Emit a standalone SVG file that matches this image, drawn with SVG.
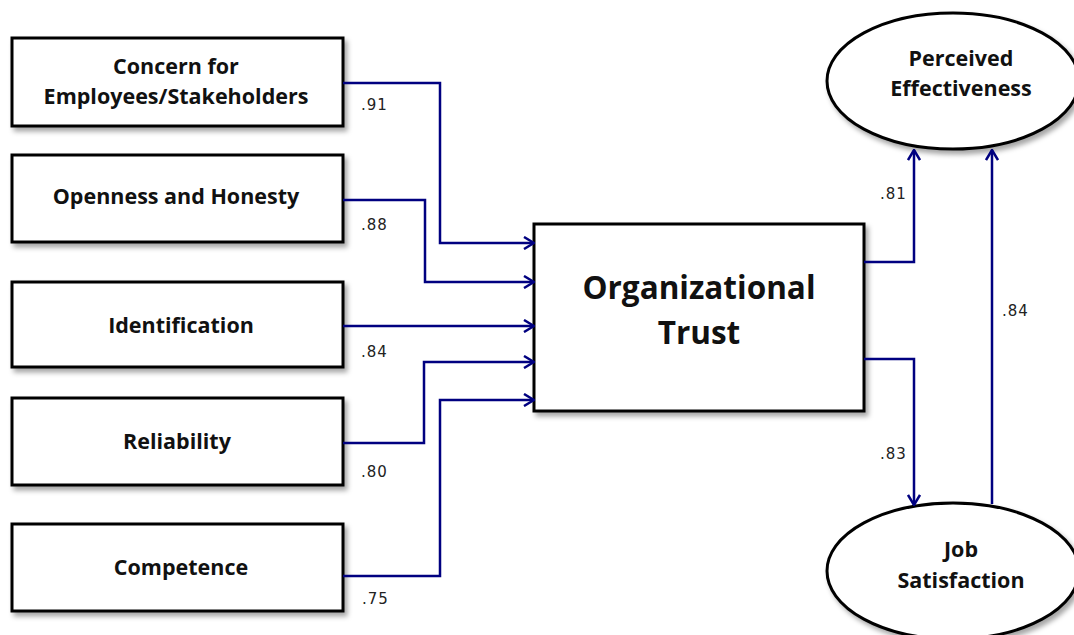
<svg xmlns="http://www.w3.org/2000/svg" width="1074" height="635" viewBox="0 0 1074 635">
  <style>
    .box { fill: #ffffff; stroke: #000000; stroke-width: 3; filter: url(#shadow); }
    .lbl { font-family: "Open Sans", Lato, "Liberation Sans", sans-serif; font-weight: bold; font-size: 21.5px; fill: #111111; text-anchor: middle; }
    .big { font-size: 31.5px; }
    .coef { font-family: "DejaVu Sans", "Liberation Sans", sans-serif; font-size: 15px; letter-spacing: 1px; fill: #222222; }
    .wire { fill: none; stroke: #000080; stroke-width: 2.5; marker-end: url(#head); }
  </style>
  <defs>
    <filter id="shadow" x="-10%" y="-10%" width="125%" height="130%">
      <feDropShadow dx="3" dy="4" stdDeviation="2.5" flood-color="#000000" flood-opacity="0.35"/>
    </filter>
    <marker id="head" viewBox="0 0 12 14" refX="11" refY="7" markerWidth="12" markerHeight="14" markerUnits="userSpaceOnUse" orient="auto">
      <path d="M1,1 L11,7 L1,13" fill="none" stroke="#000080" stroke-width="2.5"/>
    </marker>
  </defs>
  <rect width="1074" height="635" fill="#ffffff"/>

  <g id="concern">
    <rect class="box" x="12" y="38" width="331" height="88"/>
    <text class="lbl" x="176" y="74">Concern for</text>
    <text class="lbl" x="176" y="104">Employees/Stakeholders</text>
  </g>
  <g id="openness">
    <rect class="box" x="12" y="155" width="331" height="87"/>
    <text class="lbl" x="176" y="204">Openness and Honesty</text>
  </g>
  <g id="identification">
    <rect class="box" x="12" y="282" width="331" height="85"/>
    <text class="lbl" x="181" y="333">Identification</text>
  </g>
  <g id="reliability">
    <rect class="box" x="12" y="398" width="331" height="87"/>
    <text class="lbl" x="177" y="449">Reliability</text>
  </g>
  <g id="competence">
    <rect class="box" x="12" y="524" width="331" height="87"/>
    <text class="lbl" x="181" y="575">Competence</text>
  </g>
  <g id="trust">
    <rect class="box" x="534" y="224" width="330" height="187"/>
    <text class="lbl big" x="699" y="299">Organizational</text>
    <text class="lbl big" x="699" y="344">Trust</text>
  </g>
  <g id="effectiveness">
    <ellipse class="box" cx="953" cy="81" rx="126" ry="68"/>
    <text class="lbl" x="961" y="66">Perceived</text>
    <text class="lbl" x="961" y="96">Effectiveness</text>
  </g>
  <g id="satisfaction">
    <ellipse class="box" cx="953" cy="571" rx="126" ry="68"/>
    <text class="lbl" x="961" y="557">Job</text>
    <text class="lbl" x="961" y="588">Satisfaction</text>
  </g>

  <g id="connectors">
    <path class="wire" d="M343,83 H440 V243 H534"/>
    <path class="wire" d="M343,200 H425 V282 H534"/>
    <path class="wire" d="M343,326 H534"/>
    <path class="wire" d="M343,443 H424 V362 H534"/>
    <path class="wire" d="M343,576 H440 V400 H534"/>
    <path class="wire" d="M864,262 H914 V150"/>
    <path class="wire" d="M864,359 H914 V505"/>
    <path class="wire" d="M992,504 V150"/>
  </g>

  <g id="coefficients">
    <text class="coef" x="361" y="110">.91</text>
    <text class="coef" x="361" y="230">.88</text>
    <text class="coef" x="361" y="357">.84</text>
    <text class="coef" x="361" y="477">.80</text>
    <text class="coef" x="362" y="604">.75</text>
    <text class="coef" x="880" y="199">.81</text>
    <text class="coef" x="880" y="459">.83</text>
    <text class="coef" x="1002" y="316">.84</text>
  </g>
</svg>
